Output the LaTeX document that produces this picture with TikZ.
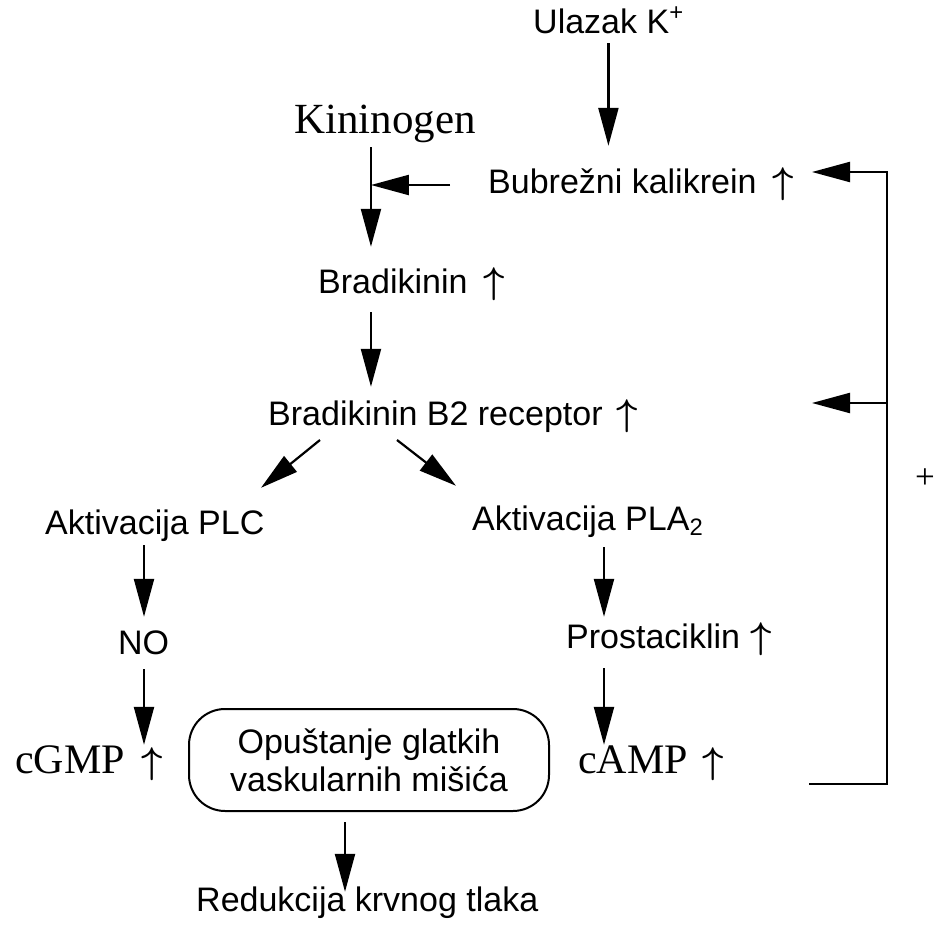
\documentclass[tikz,border=0pt]{standalone}
\usepackage{fix-cm}
\usepackage{fontspec}
\setmainfont{Liberation Sans}
\newfontfamily\serifk{Liberation Serif}
\usetikzlibrary{arrows.meta}
\newcommand{\gore}[1][16pt]{\hspace{#1}\scalebox{1.55}{\fontsize{24}{28}\selectfont\boldmath$\uparrow$}}

\begin{document}
\begin{tikzpicture}[x=1pt, y=-1pt,
    lbl/.style={anchor=base west, inner sep=0pt, text height=24pt, text depth=0pt,
      font=\fontsize{34}{38}\selectfont},
    slbl/.style={lbl, text height=26pt, font=\serifk\fontsize{42}{46}\selectfont},
    arr/.style={-{Triangle[length=38pt, width=20pt]}, line width=2.2pt}]
  \useasboundingbox (0,0) rectangle (935,926);

  \node[lbl] (ulazak) at (533,33) {Ulazak K\textsuperscript{+}};
  \node[slbl, font=\serifk\fontsize{43}{46}\selectfont] (kininogen) at (294,133) {Kininogen};
  \node[lbl] (kalikrein) at (488,193) {Bubrežni kalikrein\gore};
  \node[lbl] (bradikinin) at (318,293) {Bradikinin\gore};
  \node[lbl] (receptor) at (268,425) {Bradikinin B2 receptor\gore[14pt]};
  \node[lbl] (plc) at (45,534) {Aktivacija PLC};
  \node[lbl] (pla) at (472,530) {Aktivacija PLA\textsubscript{2}};
  \node[lbl] (no) at (118,654) {NO};
  \node[lbl] (prosta) at (566,648) {Prostaciklin\gore[10pt]};
  \node[slbl] (cgmp) at (15,773) {cGMP\gore[17pt]};
  \node[slbl] (camp) at (578,773) {cAMP\gore[15pt]};
  \node[draw, line width=2pt, rounded corners=36pt, minimum width=360pt,
    minimum height=102pt, align=center, inner sep=0pt,
    font=\fontsize{34}{38}\selectfont] (box) at (369,760)
    {Opuštanje glatkih\\vaskularnih mišića};
  \node[lbl] (redukcija) at (196,911) {Redukcija krvnog tlaka};
  \node[inner sep=0pt, font=\serifk\fontsize{35}{40}\selectfont] (plus) at (925,479) {+};

  % glavni tok
  \coordinate (kinline) at ([xshift=-14pt]kininogen.south);
  \coordinate (plcline) at ([xshift=99pt]plc.base west);
  \coordinate (plaline) at ([xshift=132pt]pla.base west);
  \coordinate (boxline) at ([xshift=-24pt]box.south);

  \draw[arr] ([yshift=-10pt]ulazak.south) -- ([yshift=23pt]ulazak.south |- kalikrein.north);
  \draw[arr] ([yshift=-14pt]kinline) -- ([yshift=22pt]kinline |- bradikinin.north);
  \draw[arr] ([shift={(-38pt,-4pt)}]kalikrein.west) -- ([yshift=-4pt]kalikrein.west -| kinline);
  \draw[arr] ([yshift=-19pt]kinline |- bradikinin.south) -- ([yshift=14pt]kinline |- receptor.north);

  \draw[arr] ([shift={(52pt,-15pt)}]receptor.base west) -- ([shift={(216pt,22pt)}]plc.north west);
  \draw[arr] ([shift={(129pt,-15pt)}]receptor.base west) -- ([shift={(-16pt,20pt)}]pla.north west);

  \draw[arr] ([yshift=-11pt]plcline) -- ([yshift=13pt]plcline |- no.north);
  \draw[arr] ([yshift=-15pt]plcline |- no.south) -- ([yshift=2pt]plcline |- cgmp.north);
  \draw[arr] ([yshift=-17pt]plaline) -- ([yshift=7pt]plaline |- prosta.north);
  \draw[arr] ([yshift=-20pt]plaline |- prosta.south) -- ([yshift=2pt]plaline |- camp.north);

  \draw[arr] ([yshift=-10pt]boxline) -- ([yshift=-5pt]boxline |- redukcija.north);

  % povratna sprega
  \coordinate (fbstart) at (809,784);
  \coordinate (fbtop) at (887,172);
  \coordinate (fbmid) at (887,403);
  \coordinate (kaltip) at (812,172);
  \coordinate (rectip) at (812,403);
  \draw[arr] (fbstart) -| (fbtop) -- (kaltip);
  \draw[arr] (fbmid) -- (rectip);
\end{tikzpicture}
\end{document}
